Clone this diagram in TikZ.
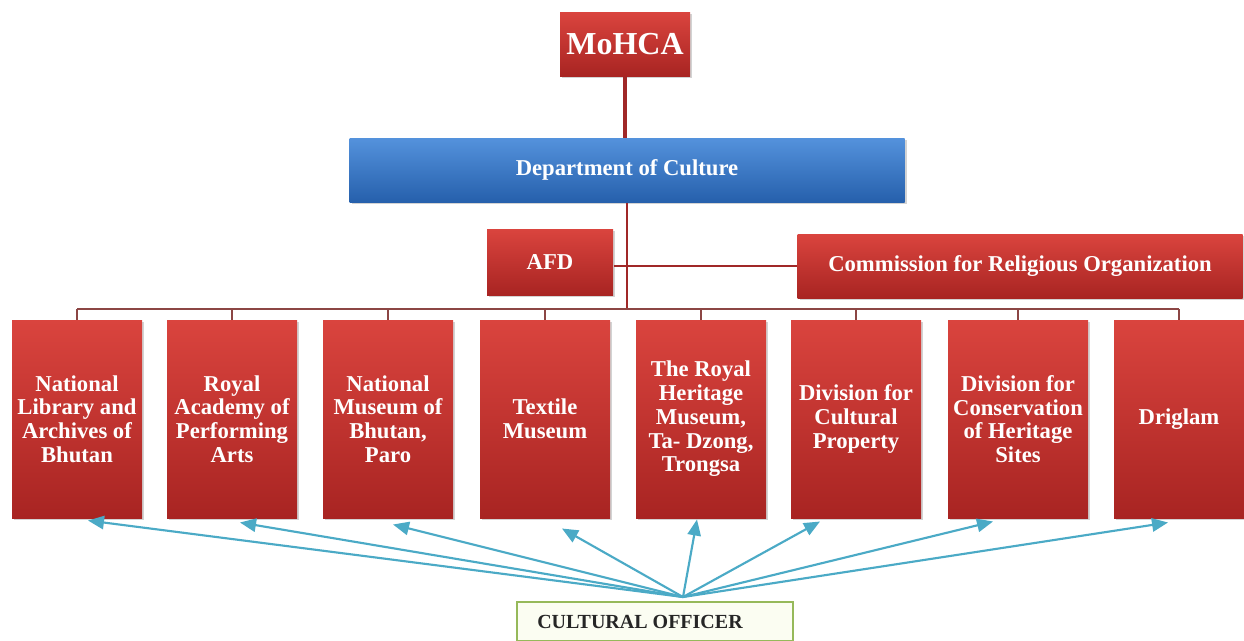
\documentclass[tikz,border=0pt]{standalone}
\usepackage{fontspec}
\setmainfont{Liberation Serif}
\usetikzlibrary{arrows.meta,calc,shadows}

\definecolor{redtop}{RGB}{218,68,62}
\definecolor{redbot}{RGB}{168,36,34}
\definecolor{bluetop}{RGB}{84,146,220}
\definecolor{bluebot}{RGB}{38,96,172}
\definecolor{linkred}{RGB}{160,40,40}
\definecolor{busred}{RGB}{140,70,68}
\definecolor{officerblue}{RGB}{75,170,198}
\definecolor{officergreen}{RGB}{150,185,90}
\definecolor{officerfill}{RGB}{251,253,242}

\tikzset{every picture/.style={line width=0.75pt}}
\tikzset{
  unitbox/.style={draw=none, top color=redtop, bottom color=redbot, text=white,
    font=\bfseries\fontsize{17}{17.8}\selectfont, align=center, inner sep=0pt,
    drop shadow={opacity=0.35, shadow xshift=1.5pt, shadow yshift=-1.5pt}},
  deptbox/.style={unitbox, top color=bluetop, bottom color=bluebot},
  subunit/.style={unitbox, minimum width=97.5pt, minimum height=148.5pt},
  officerbox/.style={draw=officergreen, line width=1.5pt, fill=officerfill, text=black!85,
    font=\bfseries\fontsize{15}{16}\selectfont, inner sep=0pt,
    minimum width=207pt, minimum height=29.25pt},
  toplink/.style={linkred, line width=3.5pt},
  midlink/.style={linkred, line width=2.2pt},
  buslink/.style={busred, line width=1.3pt},
  dutyarrow/.style={officerblue, line width=1.6pt, -{Triangle[length=12pt,width=10pt]}},
}

\begin{document}
\begin{tikzpicture}[x=0.75pt,y=0.75pt,yscale=-1,xscale=1]
\useasboundingbox (0,0) rectangle (1244,640);

% ministry and department
\node [unitbox, minimum width=97.5pt, minimum height=48pt, font=\bfseries\fontsize{24}{26}\selectfont] (mohca) at (625,44) {MoHCA};
\node [deptbox, minimum width=416.25pt, minimum height=48pt] (doc) at (627,170) {Department of Culture};
\node [unitbox, minimum width=94.5pt, minimum height=49.5pt] (afd) at (550,262) {AFD};
\node [unitbox, minimum width=333.75pt, minimum height=48pt] (cro) at (1020,266) {Commission for Religious Organization};

% divisions and museums
\node [subunit] (n1) at (77,419) {National\\Library and\\Archives of\\Bhutan};
\node [subunit] (n2) at (232,419) {Royal\\Academy of\\Performing\\Arts};
\node [subunit] (n3) at (388,419) {National\\Museum of\\Bhutan,\\Paro};
\node [subunit] (n4) at (545,419) {Textile\\Museum};
\node [subunit] (n5) at (701,419) {The Royal\\Heritage\\Museum,\\Ta- Dzong,\\Trongsa};
\node [subunit] (n6) at (856,419) {Division for\\Cultural\\Property};
\node [subunit, minimum width=105pt] (n7) at (1018,419) {Division for\\Conservation\\of Heritage\\Sites};
\node [subunit] (n8) at (1179,419) {Driglam};

\node [officerbox, anchor=north] (officer) at (655,601) {\hspace*{-1.5em}CULTURAL OFFICER};
\coordinate (hub) at (683,597);
\coordinate (bus) at (627,309);

%Straight Lines
\draw [toplink] (mohca.south) -- (mohca.south |- doc.north);
\draw [midlink] (doc.south) -- (bus);
\draw [midlink] (afd.east |- cro.west) -- (cro.west);
\draw [buslink] (bus -| n1.north) -- (bus -| n8.north);
\foreach \i in {1,...,8}
  \draw [buslink] (bus -| n\i.north) -- (n\i.north);

% officer arrows
\foreach \i/\dx/\dy in {1/11/2, 2/8/4, 3/5/6, 4/17/10, 5/-4/1, 6/-36/3, 7/-25/3, 8/-11/4}
  \draw [dutyarrow] (hub) -- ($(n\i.south)+(\dx,\dy)$);
\end{tikzpicture}
\end{document}
